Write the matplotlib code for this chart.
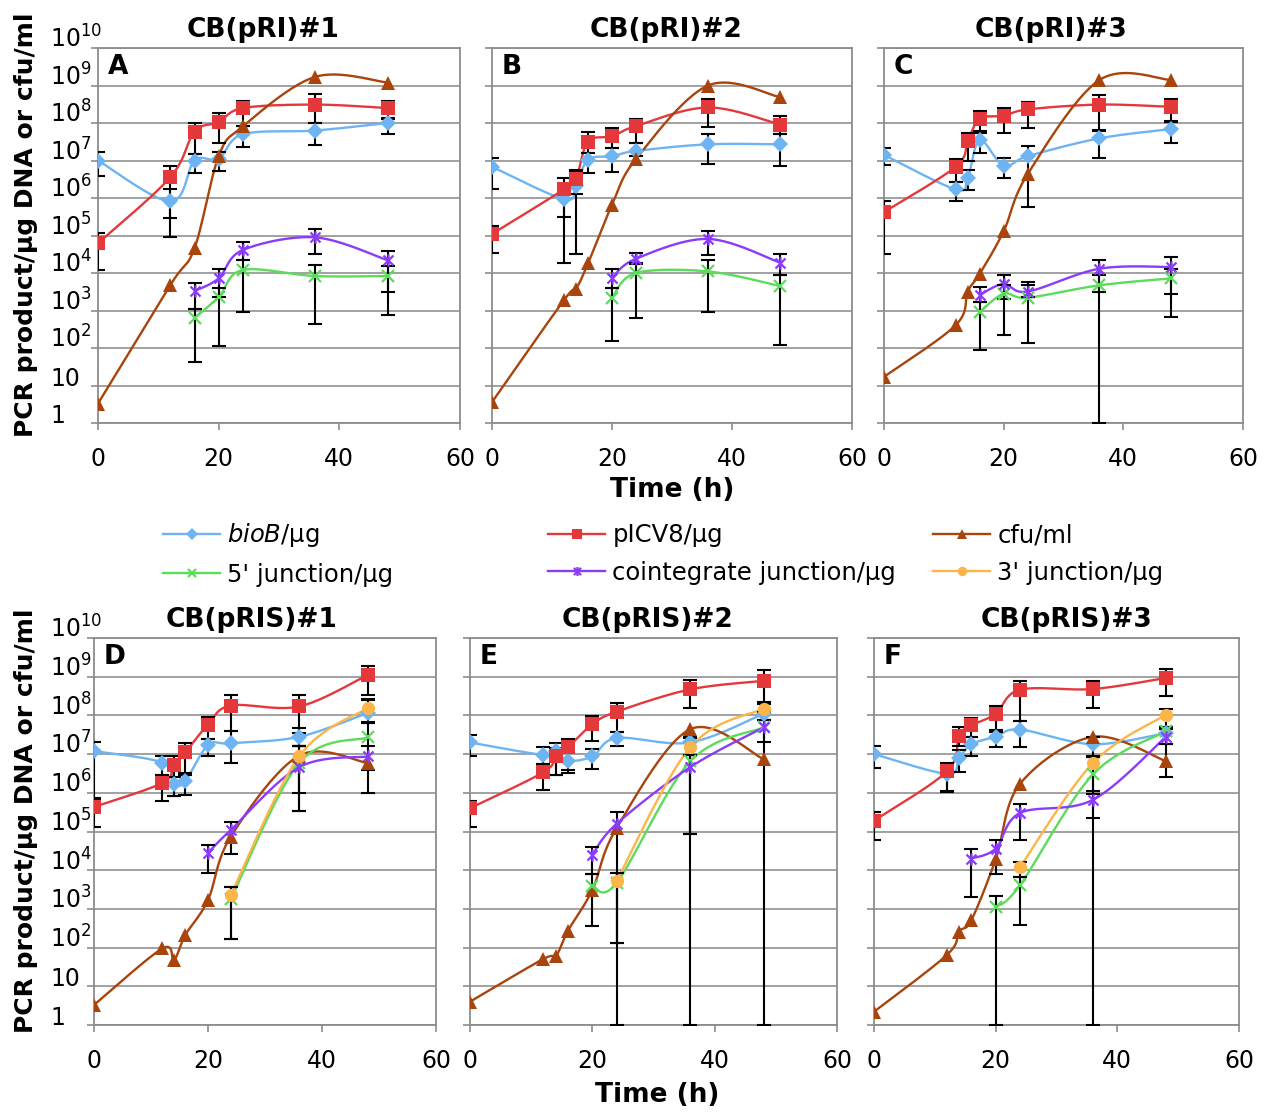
import numpy as np
import matplotlib
matplotlib.use("Agg")
import matplotlib.pyplot as plt
import matplotlib.transforms as mtransforms
from matplotlib.lines import Line2D
from matplotlib.path import Path
from matplotlib.ticker import NullLocator

plt.rcParams["font.family"] = ["DejaVu Sans"]
plt.rcParams["mathtext.fontset"] = "dejavusans"

# ---------------- data (copies per ug DNA, or cfu/ml) ----------------
# Panel A: CB(pRI)#1
t_A = [0, 12, 16, 20, 24, 36, 48]
A_bioB = [1.0e7, 8.1e5, 1.0e7, 1.1e7, 5.0e7, 6.3e7, 1.0e8]
A_bioB_err = [(3.9e6, 1.7e7), (8.9e4, 1.7e6), (4.6e6, 1.5e7), (5.4e6, 1.7e7),
              (2.3e7, 8.1e7), (2.6e7, 1.0e8), (5.0e7, 1.3e8)]
A_pICV8 = [6.2e4, 3.6e6, 5.9e7, 1.05e8, 2.5e8, 3.1e8, 2.5e8]
A_pICV8_err = [(1.2e4, 1.2e5), (2.9e5, 7.2e6), (1.5e7, 1.0e8), (2.9e7, 1.8e8),
               (8.1e7, 3.9e8), (1.0e8, 6.0e8), (1.35e8, 3.9e8)]
A_cfu = [3.3, 4.8e3, 4.6e4, 1.3e7, 8.1e7, 1.7e9, 1.2e9]
tj_A = [16, 20, 24, 36, 48]
A_j5 = [630, 2.3e3, 1.2e4, 8.3e3, 8.3e3]
A_j5_err = [(43, 1.1e3), (110, 4.0e3), (930, 2.2e4), (450, 1.6e4), (780, 1.5e4)]
A_coint = [3.3e3, 7.2e3, 4.1e4, 8.9e4, 2.2e4]
A_coint_err = [(1.1e3, 5.5e3), (2.3e3, 1.3e4), (2.2e4, 6.9e4), (3.3e4, 1.5e5), (3.2e3, 3.9e4)]

# Panel B: CB(pRI)#2
t_B = [0, 12, 14, 16, 20, 24, 36, 48]
B_bioB = [6.8e6, 9.3e5, 2.1e6, 1.05e7, 1.3e7, 1.8e7, 2.7e7, 2.7e7]
B_bioB_err = [(1.7e6, 1.2e7), (1.9e4, 1.5e6), (3.2e4, 5.4e6), (4.6e6, 1.6e7),
              (4.8e6, 2.2e7), (1.3e7, 3.0e7), (8.3e6, 5.0e7), (7.2e6, 5.0e7)]
B_pICV8 = [1.1e5, 1.7e6, 3.3e6, 3.2e7, 4.4e7, 8.3e7, 2.6e8, 9.1e7]
B_pICV8_err = [(3.4e4, 1.8e5), (3.1e5, 3.5e6), (1.3e6, 5.6e6), (1.6e7, 5.8e7),
               (2.2e7, 7.2e7), (3.0e7, 1.3e8), (7.6e7, 4.5e8), (5.0e7, 1.55e8)]
B_cfu = [3.6, 1.9e3, 3.8e3, 1.8e4, 6.6e5, 1.1e7, 1.0e9, 4.9e8]
tj_B = [20, 24, 36, 48]
B_j5 = [2.2e3, 1.0e4, 1.1e4, 4.5e3]
B_j5_err = [(150, 4.0e3), (620, 1.8e4), (910, 2.2e4), (120, 9.1e3)]
B_coint = [7.4e3, 2.4e4, 8.1e4, 1.9e4]
B_coint_err = [(4.0e3, 1.3e4), (1.7e4, 3.5e4), (3.1e4, 1.3e5), (9.1e3, 3.2e4)]

# Panel C: CB(pRI)#3
t_C = [0, 12, 14, 16, 20, 24, 36, 48]
C_bioB = [1.4e7, 1.7e6, 3.5e6, 3.5e7, 7.2e6, 1.3e7, 3.9e7, 6.9e7]
C_bioB_err = [(7.6e6, 2.1e7), (8.1e5, 2.7e6), (1.6e6, 5.5e6), (1.6e7, 5.4e7),
              (3.5e6, 1.15e7), (5.6e5, 2.5e7), (1.2e7, 6.6e7), (3.0e7, 1.1e8)]
C_pICV8 = [4.2e5, 6.9e6, 3.4e7, 1.3e8, 1.55e8, 2.3e8, 3.1e8, 2.7e8]
C_pICV8_err = [(3.3e4, 8.5e5), (2.6e6, 1.1e7), (1.0e7, 5.5e7), (6.3e7, 2.1e8),
               (5.4e7, 2.5e8), (7.4e7, 3.6e8), (6.3e7, 5.5e8), (1.05e8, 4.5e8)]
C_cfu = [17, 410, 3.2e3, 9.5e3, 1.3e5, 4.3e6, 1.4e9, 1.4e9]
tj_C = [16, 20, 24, 36, 48]
C_j5 = [910, 2.8e3, 2.2e3, 4.7e3, 7.2e3]
C_j5_err = [(87, 1.7e3), (220, 4.7e3), (140, 4.7e3), (1, 8.7e3), (690, 1.3e4)]
C_coint = [2.6e3, 5.1e3, 3.2e3, 1.3e4, 1.45e4]
C_coint_err = [(1.7e3, 4.2e3), (2.0e3, 8.7e3), (2.3e3, 5.9e3), (3.2e3, 2.2e4), (2.8e3, 2.7e4)]

# Panel D: CB(pRIS)#1
t_D = [0, 12, 14, 16, 20, 24, 36, 48]
D_bioB = [1.2e7, 6.0e6, 1.7e6, 2.0e6, 1.7e7, 1.9e7, 2.8e7, 1.15e8]
D_bioB_err = [(6.6e5, 2.1e7), (2.9e6, 9.1e6), (8.1e5, 2.6e6), (8.9e5, 2.9e6),
              (8.7e6, 2.5e7), (5.9e6, 3.9e7), (1.6e7, 4.7e7), (6.3e7, 2.6e8)]
D_pICV8 = [4.3e5, 1.8e6, 5.2e6, 1.1e7, 5.8e7, 1.8e8, 1.7e8, 1.1e9]
D_pICV8_err = [(1.3e5, 7.2e5), (6.3e5, 2.9e6), (8.1e5, 9.1e6), (3.2e6, 1.9e7),
               (2.5e7, 9.1e7), (3.9e7, 3.4e8), (3.6e7, 3.4e8), (3.4e8, 1.9e9)]
D_cfu = [3.3, 95, 48, 210, 1.7e3, 7.4e4, 9.1e6, 5.9e6]
tc_D = [20, 24, 36, 48]
D_coint = [2.8e4, 1.1e5, 4.6e6, 8.7e6]
D_coint_err = [(8.7e3, 4.6e4), (2.6e4, 1.8e5), (3.3e5, 1.6e7), (1.0e6, 1.6e7)]
tj_D = [24, 36, 48]
D_j5 = [1.8e3, 5.9e6, 2.7e7]
D_j5_err = [(170, 3.6e3), (9.8e5, 1.6e7), (3.9e6, 6.3e7)]
D_j3 = [2.3e3, 8.7e6, 1.55e8]
D_j3_err = [(170, 3.6e3), (3.3e5, 1.6e7), (6.9e7, 2.5e8)]

# Panel E: CB(pRIS)#2
t_E = [0, 12, 14, 16, 20, 24, 36, 48]
E_bioB = [2.0e7, 9.5e6, 1.2e7, 6.8e6, 8.7e6, 2.6e7, 2.0e7, 1.1e8]
E_bioB_err = [(9.1e6, 3.2e7), (5.4e6, 1.5e7), (2.8e6, 1.9e7), (3.2e6, 1.1e7),
              (4.2e6, 1.35e7), (1.6e7, 3.8e7), (9.5e6, 2.8e7), (7.6e7, 2.0e8)]
E_pICV8 = [4.0e5, 3.4e6, 8.7e6, 1.5e7, 5.9e7, 1.25e8, 4.7e8, 7.8e8]
E_pICV8_err = [(1.3e5, 6.3e5), (1.2e6, 5.4e6), (2.8e6, 1.4e7), (4.0e6, 2.5e7),
               (2.2e7, 9.8e7), (3.8e7, 2.1e8), (1.6e8, 8.1e8), (2.2e8, 1.5e9)]
E_cfu = [4.0, 51, 59, 270, 3.1e3, 1.25e5, 4.4e7, 7.4e6]
tj_E = [20, 24, 36, 48]
E_j5 = [4.0e3, 4.8e3, 6.5e6, 4.9e7]
E_j5_err = [(370, 7.9e3), (1, 8.7e3), (1, 9.5e6), (1, 1.2e8)]
E_coint = [2.5e4, 1.6e5, 4.6e6, 4.9e7]
E_coint_err = [(7.9e3, 4.0e4), (130, 3.2e5), (8.5e4, 9.5e6), (2.0e7, 7.6e7)]
t3_E = [24, 36, 48]
E_j3 = [5.4e3, 1.5e7, 1.5e8]
E_j3_err = [(130, 8.7e3), (8.5e4, 2.6e7), (7.6e7, 2.1e8)]

# Panel F: CB(pRIS)#3
t_F = [0, 12, 14, 16, 20, 24, 36, 48]
F_bioB = [1.0e7, 3.1e6, 7.9e6, 1.8e7, 2.8e7, 4.3e7, 1.8e7, 3.5e7]
F_bioB_err = [(4.5e6, 1.6e7), (1.05e6, 4.8e6), (3.4e6, 1.3e7), (8.7e6, 2.8e7),
              (1.5e7, 4.3e7), (1.5e7, 7.1e7), (8.3e6, 2.8e7), (2.6e6, 5.1e7)]
F_pICV8 = [1.9e5, 3.6e6, 3.0e7, 5.5e7, 1.1e8, 4.6e8, 4.8e8, 9.3e8]
F_pICV8_err = [(6.2e4, 3.2e5), (1.1e6, 5.9e6), (1.6e7, 5.0e7), (2.8e7, 8.7e7),
               (3.7e7, 1.7e8), (7.1e7, 7.9e8), (1.55e8, 7.6e8), (3.1e8, 1.6e9)]
F_cfu = [2.2, 65, 260, 510, 1.9e4, 1.7e6, 2.8e7, 6.5e6]
tc_F = [16, 20, 24, 36, 48]
F_coint = [2.0e4, 3.6e4, 3.0e5, 6.6e5, 2.8e7]
F_coint_err = [(2.0e3, 3.6e4), (7.9e3, 6.2e4), (6.2e4, 5.2e5), (2.3e5, 1.1e6), (1.8e7, 4.5e7)]
tj_F = [20, 24, 36, 48]
F_j5 = [1.1e3, 4.1e3, 3.0e6, 3.9e7]
F_j5_err = [(1, 2.2e3), (380, 6.8e3), (1, 8.3e6), (1.8e7, 5.1e7)]
t3_F = [24, 36, 48]
F_j3 = [1.2e4, 5.9e6, 1.05e8]
F_j3_err = [(6.8e3, 1.6e4), (9.5e5, 9.1e6), (4.5e7, 1.5e8)]

panel_titles = ["CB(pRI)#1", "CB(pRI)#2", "CB(pRI)#3",
                "CB(pRIS)#1", "CB(pRIS)#2", "CB(pRIS)#3"]
panel_letters = ["A", "B", "C", "D", "E", "F"]
x_ticks = [0, 20, 40, 60]
y_tick_labels = ["1", "10", r"$10^2$", r"$10^3$", r"$10^4$", r"$10^5$",
                 r"$10^6$", r"$10^7$", r"$10^8$", r"$10^9$", r"$10^{10}$"]

# ---------------- styles ----------------
star_path = Path([(-1, -1), (1, 1), (-1, 1), (1, -1), (0, -1.25), (0, 1.25)],
                 [Path.MOVETO, Path.LINETO, Path.MOVETO, Path.LINETO, Path.MOVETO, Path.LINETO])
styles = {
    "bioB":  dict(color="#6EB4F2", marker="D", ms=7.8, mew=0),
    "pICV8": dict(color="#E5383B", marker="s", ms=9.5, mew=0),
    "cfu":   dict(color="#A8440C", marker="^", ms=10, mew=0),
    "j5":    dict(color="#5BDC5B", marker="x", ms=8, mew=1.6),
    "coint": dict(color="#8A3CFA", marker=star_path, ms=9, mew=1.6),
    "j3":    dict(color="#FBB548", marker="o", ms=9.5, mew=0),
}
labels = {
    "bioB": r"$\mathit{bioB}$/μg", "pICV8": "pICV8/μg", "cfu": "cfu/ml",
    "j5": "5' junction/μg", "coint": "cointegrate junction/μg", "j3": "3' junction/μg",
}

panels = [
    [("bioB", t_A, A_bioB, A_bioB_err), ("pICV8", t_A, A_pICV8, A_pICV8_err),
     ("cfu", t_A, A_cfu, None), ("j5", tj_A, A_j5, A_j5_err), ("coint", tj_A, A_coint, A_coint_err)],
    [("bioB", t_B, B_bioB, B_bioB_err), ("pICV8", t_B, B_pICV8, B_pICV8_err),
     ("cfu", t_B, B_cfu, None), ("j5", tj_B, B_j5, B_j5_err), ("coint", tj_B, B_coint, B_coint_err)],
    [("bioB", t_C, C_bioB, C_bioB_err), ("pICV8", t_C, C_pICV8, C_pICV8_err),
     ("cfu", t_C, C_cfu, None), ("j5", tj_C, C_j5, C_j5_err), ("coint", tj_C, C_coint, C_coint_err)],
    [("bioB", t_D, D_bioB, D_bioB_err), ("pICV8", t_D, D_pICV8, D_pICV8_err),
     ("cfu", t_D, D_cfu, None), ("j5", tj_D, D_j5, D_j5_err), ("coint", tc_D, D_coint, D_coint_err),
     ("j3", tj_D, D_j3, D_j3_err)],
    [("bioB", t_E, E_bioB, E_bioB_err), ("pICV8", t_E, E_pICV8, E_pICV8_err),
     ("cfu", t_E, E_cfu, None), ("j5", tj_E, E_j5, E_j5_err), ("coint", tj_E, E_coint, E_coint_err),
     ("j3", t3_E, E_j3, E_j3_err)],
    [("bioB", t_F, F_bioB, F_bioB_err), ("pICV8", t_F, F_pICV8, F_pICV8_err),
     ("cfu", t_F, F_cfu, None), ("j5", tj_F, F_j5, F_j5_err), ("coint", tc_F, F_coint, F_coint_err),
     ("j3", t3_F, F_j3, F_j3_err)],
]


def smooth(t, v, n=24):
    """Catmull-Rom spline through (t, log10 v), like a spreadsheet 'smoothed line'."""
    p = np.column_stack([np.asarray(t, float), np.log10(np.asarray(v, float))])
    if len(p) < 3:
        return p[:, 0], 10 ** p[:, 1]
    q = np.vstack([p[0], p, p[-1]])
    out = []
    s = np.linspace(0, 1, n)[:, None]
    for i in range(1, len(q) - 2):
        p0, p1, p2, p3 = q[i - 1], q[i], q[i + 1], q[i + 2]
        seg = 0.5 * (2 * p1 + (-p0 + p2) * s + (2 * p0 - 5 * p1 + 4 * p2 - p3) * s ** 2
                     + (-p0 + 3 * p1 - 3 * p2 + p3) * s ** 3)
        out.append(seg if i == 1 else seg[1:])
    c = np.vstack(out)
    return c[:, 0], 10 ** c[:, 1]


# ---------------- figure ----------------
W, H = 1274, 1116
fig = plt.figure(figsize=(W / 100, H / 100), dpi=100)

# axes boxes in pixels: left, right, top, bottom
boxes = [(98, 460, 48, 423), (492, 852, 48, 423), (884, 1243, 48, 423),
         (94, 436, 638, 1025), (470, 837, 638, 1025), (874, 1239, 638, 1025)]
title_x = [0.456, 0.483, 0.465, 0.46, 0.485, 0.528]
frame_col = "#8c8c8c"

for k, (box, series) in enumerate(zip(boxes, panels)):
    l, r, tp, bt = box
    ax = fig.add_axes([l / W, 1 - bt / H, (r - l) / W, (bt - tp) / H])
    ax.set_yscale("log")
    ax.set_xlim(0, 60)
    ax.set_ylim(1, 1e10)
    ax.set_xticks(x_ticks)
    ax.set_xticklabels([str(x) for x in x_ticks], fontsize=17)
    ax.set_yticks([10.0 ** e for e in range(11)])
    ax.yaxis.set_minor_locator(NullLocator())
    ax.set_yticklabels([])
    ax.tick_params(axis="both", direction="out", length=5, width=1.2, color=frame_col)
    ax.tick_params(axis="x", pad=12)
    ax.grid(axis="y", color="#9a9a9a", lw=1.3)
    ax.set_axisbelow(True)
    for sp in ax.spines.values():
        sp.set_color(frame_col)
        sp.set_linewidth(1.3)

    for key, t, v, err in series:
        st = styles[key]
        xs, ys = smooth(t, v)
        ax.plot(xs, ys, color=st["color"], lw=1.7, zorder=2, solid_capstyle="round")
        if err is not None:
            lo = np.array([e[0] for e in err])
            hi = np.array([e[1] for e in err])
            vv = np.array(v, float)
            ax.errorbar(t, vv, yerr=[vv - lo, hi - vv], fmt="none", ecolor="black",
                        elinewidth=1.5, capsize=5, capthick=1.5, zorder=3)
        ax.plot(t, v, ls="none", marker=st["marker"], ms=st["ms"], mew=st["mew"],
                color=st["color"], mfc=st["color"], mec=st["color"], zorder=4)

    ax.set_title(panel_titles[k], fontsize=19, fontweight="bold", x=title_x[k], pad=8)
    ax.annotate(panel_letters[k], xy=(0, 1), xycoords="axes fraction",
                xytext=(7, -4), textcoords="offset points", ha="left", va="top",
                fontsize=19, fontweight="bold")

    if k in (0, 3):
        tr = mtransforms.blended_transform_factory(fig.transFigure, ax.transData)
        for e, lab in enumerate(y_tick_labels):
            ax.text(50 / W, 10.0 ** e, lab, transform=tr, ha="left", va="baseline",
                    fontsize=17, clip_on=False)
        yc = 1 - ((tp + bt) / 2 - 11) / H
        fig.text(26 / W, yc, "PCR product/μg DNA or cfu/ml", rotation=90,
                 ha="center", va="center", fontsize=18, fontweight="bold")

fig.text(672 / W, 1 - 490 / H, "Time (h)", ha="center", va="center",
         fontsize=19, fontweight="bold")
fig.text(657 / W, 1 - 1095 / H, "Time (h)", ha="center", va="center",
         fontsize=19, fontweight="bold")

# ---------------- legend: three columns of two entries ----------------
def handle(key):
    st = styles[key]
    return Line2D([], [], color=st["color"], lw=1.7, marker=st["marker"], ms=st["ms"],
                  mew=st["mew"], mfc=st["color"], mec=st["color"])

columns = [(163, ["bioB", "j5"]), (548, ["pICV8", "coint"]), (933, ["cfu", "j3"])]
for x0, keys in columns:
    leg = fig.legend([handle(k) for k in keys], [labels[k] for k in keys],
                     loc="center left", bbox_to_anchor=(x0 / W, 1 - 554 / H),
                     frameon=False, borderaxespad=0, borderpad=0, fontsize=17.5,
                     handlelength=2.35, handletextpad=0.3, labelspacing=0.55,
                     markerscale=0.72)

fig.savefig("out.png", dpi=100)
